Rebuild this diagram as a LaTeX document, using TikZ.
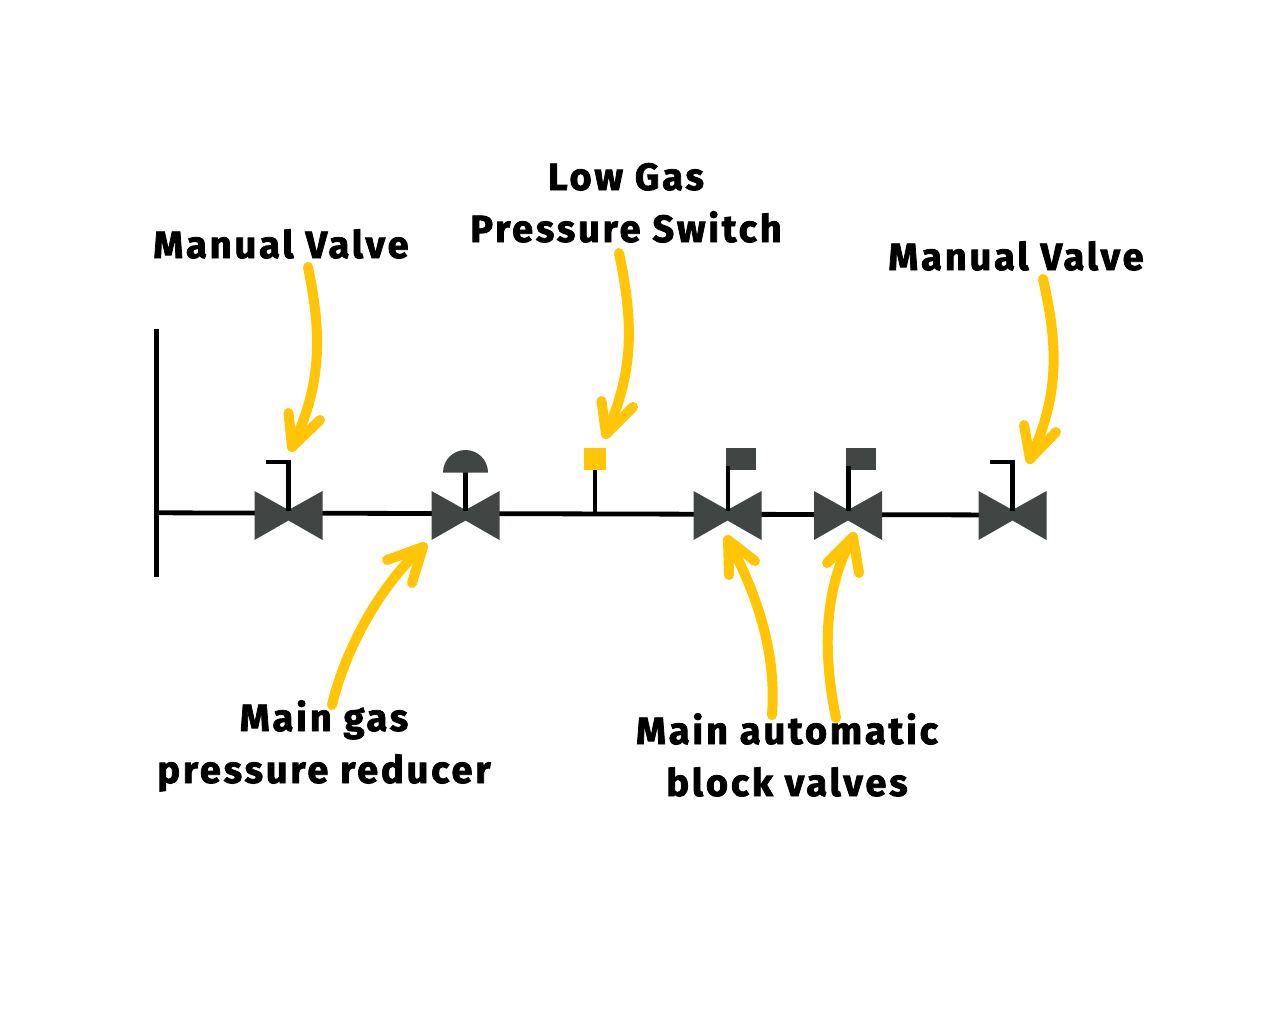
\documentclass[tikz,border=0pt]{standalone}
\usepackage{fontspec}
\setmainfont[LetterSpace=7.5,BoldFont={Fira Sans Bold},BoldFeatures={FakeBold=2}]{Fira Sans}
\definecolor{valvegrey}{HTML}{414543}
\definecolor{markyellow}{HTML}{FFC506}
\tikzset{
  x=0.75pt,y=-0.75pt,
  pipe/.style={line width=3.6pt,black,line cap=butt},
  stem/.style={line width=3.4pt,black,line cap=butt,line join=miter},
  body/.style={fill=valvegrey,draw=none},
  pointer/.style={line width=7.5pt,markyellow,line cap=round,line join=round},
  lbl/.style={inner sep=0pt,anchor=base,text=black,font=\fontsize{28.5}{28.5}\selectfont\bfseries},
}
\newcommand{\valvebody}[1]{%
  \fill[body] (#1)++(-34,-24.5) -- ++(34,19) -- ++(34,-19) -- ++(0,49) -- ++(-34,-19.5) -- ++(-34,19.5) -- cycle;}
\begin{document}
\begin{tikzpicture}
\useasboundingbox (0,0) rectangle (1280,1024);
\fill[white] (0,0) rectangle (1280,1024);
% junction points
\coordinate (v1) at (288.5,515.5);
\coordinate (v2) at (465.5,515.5);
\coordinate (v3) at (727.5,515.5);
\coordinate (v4) at (848,515.5);
\coordinate (v5) at (1012.5,515.5);
\coordinate (busT) at (156.5,329);
\coordinate (busB) at (156.5,577);
\coordinate (busJ) at (156.5,512.8);
\coordinate (swJ) at (595,514);
\coordinate (pipeE) at (1012.5,515);
% pipes
\draw[pipe] (busT) -- (busB);
\draw[pipe] (busJ) -- (pipeE);
% valves
\valvebody{v1}\valvebody{v2}\valvebody{v3}\valvebody{v4}\valvebody{v5}
% manual handles
\draw[stem] (v1)++(0,-5) -- ++(0,-48.5) -- ++(-23,0);
\draw[stem] (v5)++(0,-5) -- ++(0,-48.5) -- ++(-23,0);
% reducer
\draw[stem] (v2)++(0,-5) -- ++(0,-39);
\fill[valvegrey] (443,472.5) arc[start angle=180,end angle=360,radius=22.5] -- cycle;
% switch
\node[fill=markyellow,minimum size=16.5pt,inner sep=0pt] (sw) at (595,459) {};
\draw[stem] (sw.south) -- (swJ);
% actuators
\node[fill=valvegrey,minimum width=22.5pt,minimum height=16.5pt,inner sep=0pt] (a3) at (741,459) {};
\node[fill=valvegrey,minimum width=22.5pt,minimum height=16.5pt,inner sep=0pt] (a4) at (861,459) {};
\draw[stem] (v3)++(0.5,-5) -- ++(0,-45);
\draw[stem] (v4)++(0.5,-5) -- ++(0,-45);
% labels
\node[lbl] (l1) at (281,258) {Manual Valve};
\node[lbl] (l2a) at (626,190) {Low Gas};
\node[lbl] (l2) at (626,242) {Pressure Switch};
\node[lbl] (l3) at (1016,270) {Manual Valve};
\node[lbl] (l4) at (324,731) {Main gas};
\node[lbl] (l4b) at (324,783) {pressure reducer};
\node[lbl] (l5) at (787,744) {Main automatic};
\node[lbl] (l5b) at (787,796) {block valves};
% arrows
\coordinate (s1) at (308,267); \coordinate (t1) at (292,447);
\coordinate (s2) at (619,253); \coordinate (t2) at (606,434);
\coordinate (s3) at (1043,279); \coordinate (t3) at (1030,459);
\coordinate (s4) at (332,705); \coordinate (t4) at (423,547);
\coordinate (s5) at (772,715); \coordinate (t5) at (728,540);
\coordinate (s6) at (836,718); \coordinate (t6) at (853,537);
\draw[pointer] (s1) .. controls (322,335) and (322,385) .. (t1);
\draw[pointer] (t1)++(-3.5,-34) -- (t1) -- ++(28,-27);
\draw[pointer] (s2) .. controls (633,320) and (635,370) .. (t2);
\draw[pointer] (t2)++(-4.5,-33) -- (t2) -- ++(27,-27);
\draw[pointer] (s3) .. controls (1058,345) and (1060,395) .. (t3);
\draw[pointer] (t3)++(-6,-34) -- (t3) -- ++(26,-27);
\draw[pointer] (s4) .. controls (345,650) and (380,585) .. (t4);
\draw[pointer] (t4)++(-36,13) -- (t4) -- ++(-11,36);
\draw[pointer] (s5) .. controls (777,650) and (755,590) .. (t5);
\draw[pointer] (t5)++(27,21) -- (t5) -- ++(1,35);
\draw[pointer] (s6) .. controls (820,640) and (828,580) .. (t6);
\draw[pointer] (t6)++(-26,26) -- (t6) -- ++(6,36);
\end{tikzpicture}
\end{document}
